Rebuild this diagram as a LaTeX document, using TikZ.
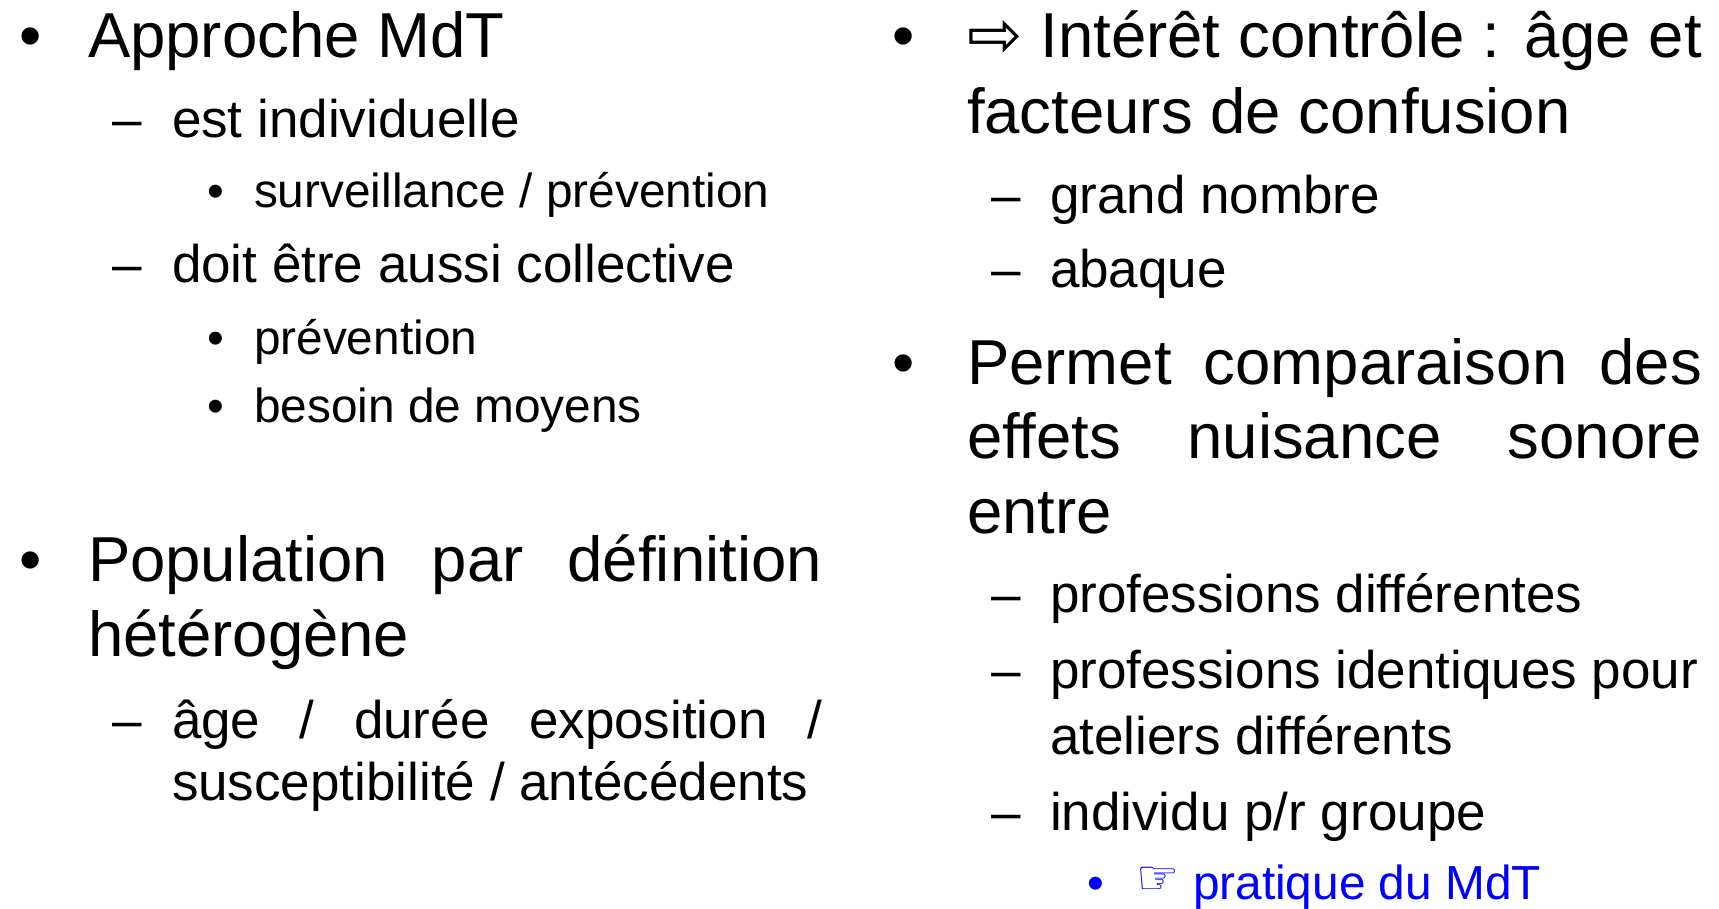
\documentclass[tikz,border=0pt]{standalone}
\usepackage{fontspec}
\setmainfont{Liberation Sans}[Ligatures=NoCommon]
\newfontfamily\symfont{DejaVu Sans}
\begin{document}
\begin{tikzpicture}[x=1pt,y=1pt,
  txt/.style={anchor=base west, inner sep=0pt, outer sep=0pt},
  lone/.style={txt, font=\fontsize{63.5}{76}\selectfont},
  ltwo/.style={txt, font=\fontsize{53}{64}\selectfont},
  lthree/.style={txt, font=\fontsize{47.8}{57}\selectfont},
  bulone/.style={anchor=base, inner sep=0pt, font=\fontsize{63.5}{76}\selectfont},
  bulthree/.style={anchor=base, inner sep=0pt, font=\fontsize{47.8}{57}\selectfont},
  dashtwo/.style={anchor=base, inner sep=0pt, font=\fontsize{53}{64}\selectfont},
  blueitem/.style={text=linkblue}]
\definecolor{linkblue}{RGB}{0,0,255}
\useasboundingbox (0,0) rectangle (1719,-909);
% Left column
\node[bulone] (b1) at (31,-58) {•};
\node[lone] (t1) at (88,-58) {Approche MdT};
\node[dashtwo] (d1) at (127,-138) {–};
\node[ltwo] (t2) at (172,-138) {est individuelle};
\node[bulthree] (b2) at (216,-208) {•};
\node[lthree] (t3) at (254,-208) {surveillance / prévention};
\node[dashtwo] (d2) at (127,-283) {–};
\node[ltwo] (t4) at (172,-283) {doit être aussi collective};
\node[bulthree] (b3) at (216,-354) {•};
\node[lthree] (t5) at (254,-354) {prévention};
\node[bulthree] (b4) at (216,-422) {•};
\node[lthree] (t6) at (254,-422) {besoin de moyens};
\node[bulone] (b5) at (31,-581) {•};
\node[lone] (t7) at (88,-581) {\makebox[734pt][s]{Population par définition}};
\node[lone] (t8) at (88,-656) {hétérogène};
\node[dashtwo] (d3) at (127,-738) {–};
\node[ltwo] (t9) at (172,-738) {\makebox[650pt][s]{âge / durée exposition /}};
\node[ltwo] (t10) at (172,-800) {susceptibilité / antécédents};
% Right column
\node[bulone] (b6) at (904,-58) {•};
\node[lone] (t11) at (967,-58) {\makebox[735pt][s]{{\symfont\fontsize{66}{70}\selectfont ⇨} Intérêt contrôle : âge et}};
\node[lone] (t12) at (967,-134) {facteurs de confusion};
\node[dashtwo] (d4) at (1006,-214) {–};
\node[ltwo] (t13) at (1050,-214) {grand nombre};
\node[dashtwo] (d5) at (1006,-288) {–};
\node[ltwo] (t14) at (1050,-288) {abaque};
\node[bulone] (b7) at (904,-384) {•};
\node[lone] (t15) at (967,-384) {\makebox[735pt][s]{Permet comparaison des}};
\node[lone] (t16) at (967,-458) {\makebox[735pt][s]{effets nuisance sonore}};
\node[lone] (t17) at (967,-533) {entre};
\node[dashtwo] (d6) at (1006,-612) {–};
\node[ltwo] (t18) at (1050,-612) {professions différentes};
\node[dashtwo] (d7) at (1006,-688) {–};
\node[ltwo] (t19) at (1050,-688) {professions identiques pour};
\node[ltwo] (t20) at (1050,-754) {ateliers différents};
\node[dashtwo] (d8) at (1006,-830) {–};
\node[ltwo] (t21) at (1050,-830) {individu p/r groupe};
\node[bulthree, blueitem] (b8) at (1096,-899) {•};
\node[anchor=base, inner sep=0pt, text=linkblue, font=\symfont\fontsize{48}{52}\selectfont] (h1) at (1158,-894) {☞};
\node[lthree, blueitem] (t22) at (1193,-899) {pratique du MdT};
\end{tikzpicture}
\end{document}
